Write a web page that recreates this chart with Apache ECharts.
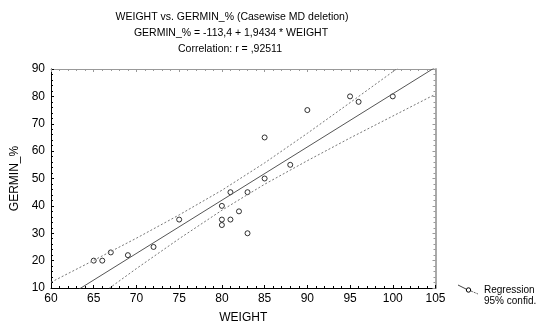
<!DOCTYPE html>
<html>
<head>
<meta charset="utf-8">
<script src="https://cdn.jsdelivr.net/npm/echarts@6/dist/echarts.min.js"></script>
<style>
html,body{margin:0;padding:0;background:#fff;}
#chart{width:540px;height:329px;}
</style>
</head>
<body>
<div id="chart"></div>
<script>
// ---- data ----
var weight = [65, 66, 67, 69, 72, 75, 80, 80, 80, 81, 81, 82, 83, 83, 85, 85, 88, 90, 95, 96, 100];
var germin = [20, 20, 23, 22, 25, 35, 40, 35, 33, 35, 45, 38, 45, 30, 65, 50, 55, 75, 80, 78, 80];

var regX = [60, 105];
var regY = [3.2, 90.66];

var ciX = [60, 65, 70, 75, 80, 85, 90, 95, 100, 105];
var ciUpper = [12.1, 20.1, 28.2, 36.7, 45.7, 55.7, 66.5, 77.7, 89.0, 100.5];
var ciLower = [-5.7, 5.8, 17.1, 28.0, 38.4, 47.9, 56.5, 64.8, 72.8, 80.8];

var xTicks = [60, 65, 70, 75, 80, 85, 90, 95, 100, 105];
var yTicks = [10, 20, 30, 40, 50, 60, 70, 80, 90];

var titleLines = [
  'WEIGHT vs. GERMIN_% (Casewise MD deletion)',
  'GERMIN_% = -113,4 + 1,9434 * WEIGHT',
  'Correlation: r = ,92511'
];
var legendLabels = ['Regression', '95% confid.'];

function pairs(xs, ys) {
  return xs.map(function (x, i) { return [x, ys[i]]; });
}

var FONT = '"Liberation Sans", Arial, sans-serif';

var chart = echarts.init(document.getElementById('chart'), null, {renderer: 'canvas'});

var baseX = {
  type: 'value', min: xTicks[0], max: xTicks[xTicks.length - 1], interval: 5,
  splitLine: {show: false}
};
var baseY = {
  type: 'value', min: yTicks[0], max: yTicks[yTicks.length - 1], interval: 10,
  splitLine: {show: false}
};

var option = {
  animation: false,
  backgroundColor: '#fff',
  grid: {left: 51, right: 104.5, top: 69, bottom: 33.5},
  xAxis: [
    Object.assign({}, baseX, {
      position: 'bottom',
      name: 'WEIGHT', nameLocation: 'middle', nameGap: 24,
      nameTextStyle: {fontFamily: FONT, fontSize: 12, color: '#000'},
      axisLine: {lineStyle: {color: '#000', width: 1}},
      axisTick: {inside: true, length: 3, lineStyle: {color: '#000'}},
      minorTick: {show: true, splitNumber: 5, length: 2, lineStyle: {color: '#000'}},
      axisLabel: {fontFamily: FONT, fontSize: 12, color: '#000', margin: 5}
    }),
    Object.assign({}, baseX, {
      position: 'top',
      axisLine: {lineStyle: {color: '#999', width: 1}},
      axisTick: {inside: true, length: 3, lineStyle: {color: '#999'}},
      minorTick: {show: true, splitNumber: 5, length: 2, lineStyle: {color: '#999'}},
      axisLabel: {show: false}
    })
  ],
  yAxis: [
    Object.assign({}, baseY, {
      position: 'left',
      name: 'GERMIN_%', nameLocation: 'middle', nameGap: 23, nameRotate: 90,
      nameTextStyle: {fontFamily: FONT, fontSize: 12, color: '#000'},
      axisLine: {show: true, lineStyle: {color: '#000', width: 1}},
      axisTick: {show: true, inside: true, length: 3, lineStyle: {color: '#000'}},
      minorTick: {show: true, splitNumber: 5, length: 2, lineStyle: {color: '#000'}},
      axisLabel: {fontFamily: FONT, fontSize: 12, color: '#000', margin: 6}
    }),
    Object.assign({}, baseY, {
      position: 'right',
      axisLine: {show: true, lineStyle: {color: '#aaa', width: 2}},
      axisTick: {show: true, inside: true, length: 3, lineStyle: {color: '#999'}},
      minorTick: {show: true, splitNumber: 5, length: 2, lineStyle: {color: '#999'}},
      axisLabel: {show: false}
    })
  ],
  series: [
    {
      name: '95% confid. upper', type: 'line', data: pairs(ciX, ciUpper),
      symbol: 'none', clip: true, silent: true,
      lineStyle: {color: '#777', width: 1, type: [2, 2]}
    },
    {
      name: '95% confid. lower', type: 'line', data: pairs(ciX, ciLower),
      symbol: 'none', clip: true, silent: true,
      lineStyle: {color: '#777', width: 1, type: [2, 2]}
    },
    {
      name: 'Regression', type: 'line', data: pairs(regX, regY),
      symbol: 'none', clip: true, silent: true,
      lineStyle: {color: '#555', width: 1}
    },
    {
      name: 'Data', type: 'scatter', data: pairs(weight, germin),
      symbol: 'circle', symbolSize: 5, silent: true,
      itemStyle: {color: 'rgba(255,255,255,0)', borderColor: '#000', borderWidth: 1}
    }
  ],
  graphic: [
    {type: 'text', x: 232, y: 12, silent: true,
     style: {text: titleLines[0], fontFamily: FONT, fontSize: 10.5, fill: '#000', align: 'center', verticalAlign: 'top'}},
    {type: 'text', x: 231, y: 28, silent: true,
     style: {text: titleLines[1], fontFamily: FONT, fontSize: 10.5, fill: '#000', align: 'center', verticalAlign: 'top'}},
    {type: 'text', x: 230, y: 44, silent: true,
     style: {text: titleLines[2], fontFamily: FONT, fontSize: 10.5, fill: '#000', align: 'center', verticalAlign: 'top'}},
    {type: 'line', silent: true,
     shape: {x1: 458, y1: 285, x2: 466, y2: 289},
     style: {stroke: '#444', lineWidth: 1}},
    {type: 'line', silent: true,
     shape: {x1: 471, y1: 291, x2: 478, y2: 294},
     style: {stroke: '#666', lineWidth: 1, lineDash: [2, 1]}},
    {type: 'circle', silent: true,
     shape: {cx: 468.5, cy: 290, r: 2.2},
     style: {fill: '#fff', stroke: '#000', lineWidth: 1}},
    {type: 'text', x: 484, y: 290, silent: true,
     style: {text: legendLabels[0], fontFamily: FONT, fontSize: 10, fill: '#000', align: 'left', verticalAlign: 'middle'}},
    {type: 'text', x: 484, y: 301, silent: true,
     style: {text: legendLabels[1], fontFamily: FONT, fontSize: 10, fill: '#000', align: 'left', verticalAlign: 'middle'}}
  ]
};

chart.setOption(option);
</script>
</body>
</html>
